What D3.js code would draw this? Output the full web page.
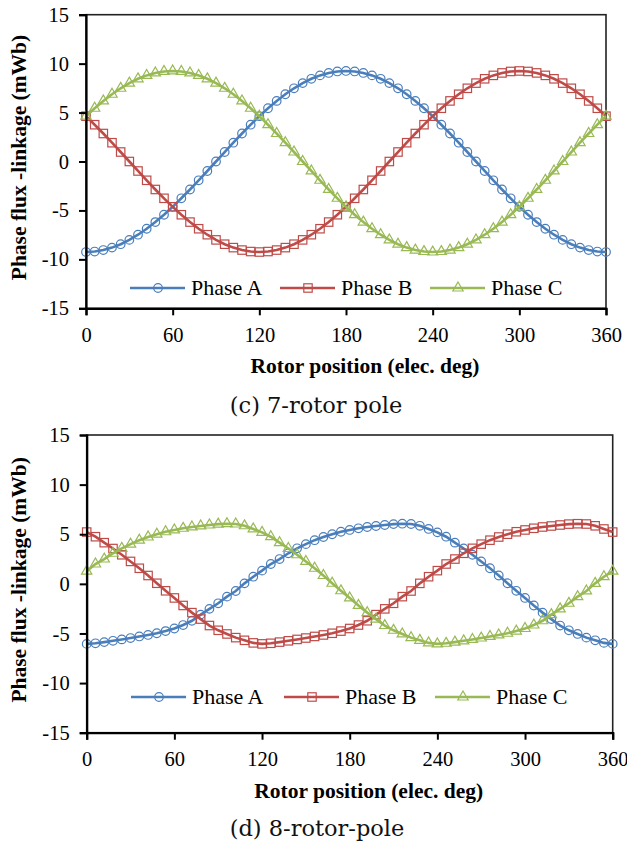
<!DOCTYPE html>
<html>
<head>
<meta charset="utf-8">
<script src="https://cdn.jsdelivr.net/npm/d3@7"></script>
<style>
  body { margin: 0; background: #fff; }
  svg { display: block; }
  .tick-label { font-family: "Liberation Serif", "Times New Roman", serif; font-size: 20.5px; fill: #000; }
  .axis-title { font-family: "Liberation Serif", "Times New Roman", serif; font-size: 21.5px; font-weight: bold; fill: #000; }
  .legend-label { font-family: "Liberation Serif", "Times New Roman", serif; font-size: 22px; fill: #000; }
  .caption { font-family: "DejaVu Serif", "Liberation Serif", serif; font-size: 22.5px; fill: #111; }
</style>
</head>
<body>
<div id="wrapper"></div>
<script>
// rotor position (elec. deg), one sample every 6 deg
const angles = d3.range(0, 361, 6);
const xTicks = [0, 60, 120, 180, 240, 300, 360];
const yTicks = [-15, -10, -5, 0, 5, 10, 15];
const phaseNames = ["Phase A", "Phase B", "Phase C"];

// (c) 7-rotor pole, mWb
const pole7A = [-9.25,-9.20,-9.05,-8.80,-8.45,-8.01,-7.48,-6.87,-6.19,-5.44,-4.63,-3.76,-2.86,-1.92,-0.97,0.00,0.97,1.92,2.86,3.76,4.63,5.44,6.19,6.87,7.48,8.01,8.45,8.80,9.05,9.20,9.25,9.20,9.05,8.80,8.45,8.01,7.48,6.87,6.19,5.44,4.63,3.76,2.86,1.92,0.97,0.00,-0.97,-1.92,-2.86,-3.76,-4.63,-5.44,-6.19,-6.87,-7.48,-8.01,-8.45,-8.80,-9.05,-9.20,-9.25];
const pole7B = [4.63,3.76,2.86,1.92,0.97,0.00,-0.97,-1.92,-2.86,-3.76,-4.63,-5.44,-6.19,-6.87,-7.48,-8.01,-8.45,-8.80,-9.05,-9.20,-9.25,-9.20,-9.05,-8.80,-8.45,-8.01,-7.48,-6.87,-6.19,-5.44,-4.63,-3.76,-2.86,-1.92,-0.97,0.00,0.97,1.92,2.86,3.76,4.63,5.44,6.19,6.87,7.48,8.01,8.45,8.80,9.05,9.20,9.25,9.20,9.05,8.80,8.45,8.01,7.48,6.87,6.19,5.44,4.63];
const pole7C = [4.63,5.44,6.19,6.87,7.48,8.01,8.45,8.80,9.05,9.20,9.25,9.20,9.05,8.80,8.45,8.01,7.48,6.87,6.19,5.44,4.63,3.76,2.86,1.92,0.97,0.00,-0.97,-1.92,-2.86,-3.76,-4.63,-5.44,-6.19,-6.87,-7.48,-8.01,-8.45,-8.80,-9.05,-9.20,-9.25,-9.20,-9.05,-8.80,-8.45,-8.01,-7.48,-6.87,-6.19,-5.44,-4.63,-3.76,-2.86,-1.92,-0.97,0.00,0.97,1.92,2.86,3.76,4.63];

// (d) 8-rotor-pole, mWb
const pole8A = [-6.05,-5.99,-5.87,-5.74,-5.60,-5.46,-5.30,-5.15,-4.98,-4.76,-4.50,-4.15,-3.72,-3.10,-2.52,-1.96,-1.29,-0.72,0.05,0.72,1.33,2.00,2.50,3.08,3.58,4.00,4.40,4.72,5.00,5.25,5.43,5.60,5.73,5.83,5.93,6.02,6.06,6.03,5.85,5.53,5.19,4.75,4.15,3.56,2.93,2.26,1.57,0.84,0.06,-0.70,-1.42,-2.18,-2.90,-3.55,-4.20,-4.68,-5.05,-5.42,-5.69,-5.95,-6.05];
const pole8B = [5.22,4.75,4.15,3.56,2.93,2.26,1.57,0.84,0.06,-0.70,-1.42,-2.18,-2.90,-3.55,-4.20,-4.68,-5.05,-5.42,-5.69,-5.95,-6.05,-5.99,-5.87,-5.74,-5.60,-5.46,-5.30,-5.15,-4.98,-4.76,-4.50,-4.15,-3.72,-3.10,-2.52,-1.96,-1.29,-0.72,0.05,0.72,1.33,2.00,2.50,3.08,3.58,4.00,4.40,4.72,5.00,5.25,5.43,5.60,5.73,5.83,5.93,6.02,6.06,6.03,5.85,5.53,5.22];
const pole8C = [1.28,2.00,2.50,3.08,3.58,4.00,4.40,4.72,5.00,5.25,5.43,5.60,5.73,5.83,5.93,6.02,6.06,6.03,5.85,5.53,5.19,4.75,4.15,3.56,2.93,2.26,1.57,0.84,0.06,-0.70,-1.42,-2.18,-2.90,-3.55,-4.20,-4.68,-5.05,-5.42,-5.69,-5.95,-6.05,-5.99,-5.87,-5.74,-5.60,-5.46,-5.30,-5.15,-4.98,-4.76,-4.50,-4.15,-3.72,-3.10,-2.52,-1.96,-1.29,-0.72,0.05,0.72,1.28];

const colors = ["#4a7ebb", "#be4b48", "#98b954"];

const svg = d3.select("#wrapper")
  .append("svg")
    .attr("width", 627)
    .attr("height", 847);

// hollow Excel-style markers: 0 circle, 1 square, 2 triangle
function marker(g, kind, color) {
  if (kind === 0) {
    g.append("circle").attr("r", 4.3)
      .attr("fill", "none").attr("stroke", color).attr("stroke-width", 1.2);
  } else if (kind === 1) {
    g.append("rect").attr("x", -4.2).attr("y", -4.2).attr("width", 8.4).attr("height", 8.4)
      .attr("fill", "none").attr("stroke", color).attr("stroke-width", 1.2);
  } else {
    g.append("path").attr("d", d3.symbol(d3.symbolTriangle, 46)())
      .attr("fill", "none").attr("stroke", color).attr("stroke-width", 1.2);
  }
}

function drawPanel(p) {
  const x = d3.scaleLinear().domain([0, 360]).range([p.left, p.right]);
  const y = d3.scaleLinear().domain([-15, 15]).range([p.bottom, p.top]);

  const g = svg.append("g");

  // frame
  g.append("rect")
    .attr("x", p.left).attr("y", p.top)
    .attr("width", p.right - p.left).attr("height", p.bottom - p.top)
    .attr("fill", "none").attr("stroke", "#222").attr("stroke-width", 1.6);

  // series
  const line = d3.line().x((d, i) => x(angles[i])).y(d => y(d));
  p.series.forEach((vals, k) => {
    g.append("path")
      .datum(vals)
      .attr("d", line)
      .attr("fill", "none")
      .attr("stroke", colors[k])
      .attr("stroke-width", 2.6);
    g.selectAll(null)
      .data(vals)
      .join("g")
        .attr("transform", (d, i) => `translate(${x(angles[i])},${y(d)})`)
        .each(function() { marker(d3.select(this), k, colors[k]); });
  });

  // axes (plain hyphen for negatives, like the original)
  const yAxis = g.append("g").attr("transform", `translate(${p.left},0)`)
    .call(d3.axisLeft(y).tickValues(yTicks).tickFormat(d => String(d)).tickSize(7).tickPadding(10));
  const xAxis = g.append("g").attr("transform", `translate(0,${p.bottom})`)
    .call(d3.axisBottom(x).tickValues(xTicks).tickFormat(d => String(d)).tickSize(7).tickPadding(12));
  [xAxis, yAxis].forEach(a => {
    a.attr("font-size", null).attr("font-family", null);
    a.select(".domain").attr("stroke", "#000").attr("stroke-width", 2.2);
    a.selectAll(".tick line").attr("stroke", "#000").attr("stroke-width", 2);
    a.selectAll(".tick text").attr("class", "tick-label");
  });

  g.append("text")
    .attr("class", "axis-title")
    .attr("x", (p.left + p.right) / 2 + 19)
    .attr("y", p.bottom + 65)
    .attr("text-anchor", "middle")
    .text("Rotor position (elec. deg)");

  g.append("text")
    .attr("class", "axis-title")
    .attr("transform", `translate(26,${(p.top + p.bottom) / 2 - 4}) rotate(-90)`)
    .attr("text-anchor", "middle")
    .text("Phase flux -linkage (mWb)");

  // legend
  const legend = g.append("g").attr("transform", `translate(0,${p.legendY})`);
  p.legendX.forEach((lx, k) => {
    const item = legend.append("g").attr("transform", `translate(${lx},0)`);
    item.append("line").attr("x1", 0).attr("x2", 55)
      .attr("stroke", colors[k]).attr("stroke-width", 2.6);
    marker(item.append("g").attr("transform", "translate(28,0)"), k, colors[k]);
    item.append("text")
      .attr("class", "legend-label")
      .attr("x", 61).attr("dy", "0.33em")
      .text(phaseNames[k]);
  });

  svg.append("text")
    .attr("class", "caption")
    .attr("x", p.captionX).attr("y", p.captionY)
    .attr("text-anchor", "middle")
    .text(p.caption);
}

drawPanel({
  left: 86, right: 606, top: 14.7, bottom: 308.3,
  series: [pole7A, pole7B, pole7C],
  legendY: 288, legendX: [130, 280, 430],
  caption: "(c) 7-rotor pole", captionX: 316, captionY: 413
});

drawPanel({
  left: 86.7, right: 612.7, top: 435, bottom: 732.7,
  series: [pole8A, pole8B, pole8C],
  legendY: 697, legendX: [131, 284, 435],
  caption: "(d) 8-rotor-pole", captionX: 317, captionY: 836
});
</script>
</body>
</html>
